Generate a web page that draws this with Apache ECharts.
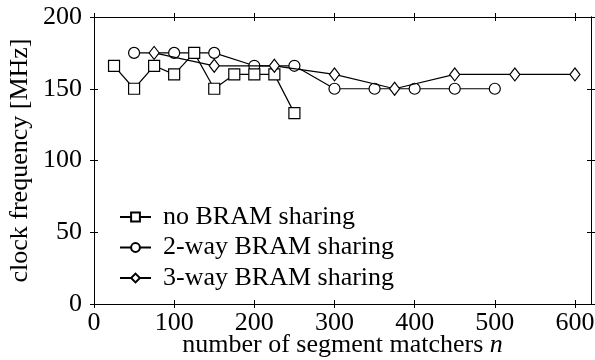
<!DOCTYPE html>
<html>
<head>
<meta charset="utf-8">
<script src="https://cdn.jsdelivr.net/npm/echarts@6/dist/echarts.min.js"></script>
<style>html,body{margin:0;padding:0;background:#fff}#c{width:595px;height:360px}</style>
</head>
<body>
<div id="c"></div>
<script>
// Data
const seriesNames = ['no BRAM sharing', '2-way BRAM sharing', '3-way BRAM sharing'];
const nNoShare = [25, 50, 75, 100, 125, 150, 175, 200, 225, 250];
const fNoShare = [166, 150, 166, 160, 175, 150, 160, 160, 160, 133];
const nTwoWay = [50, 100, 150, 200, 250, 300, 350, 400, 450, 500];
const fTwoWay = [175, 175, 175, 166, 166, 150, 150, 150, 150, 150];
const nThreeWay = [75, 150, 225, 300, 375, 450, 525, 600];
const fThreeWay = [175, 166, 166, 160, 150, 160, 160, 160];
const xTicks = [0, 100, 200, 300, 400, 500, 600];
const yTicks = [0, 50, 100, 150, 200];

const FONT = 'Liberation Serif';
const FS = 26;
const pair = (xs, ys) => xs.map((x, i) => [x, ys[i]]);

function xAx(grid, pos, inside, labels, extra) {
  return Object.assign({
    gridIndex: grid, type: 'value', position: pos, min: 0, max: 620, interval: 100,
    axisLine: { show: true, onZero: false, lineStyle: { color: '#000', width: 1 } },
    axisTick: { show: true, inside: inside, length: 4, customValues: xTicks, lineStyle: { color: '#000', width: 1 } },
    axisLabel: labels ? { show: true, customValues: xTicks, fontFamily: FONT, fontSize: FS, color: '#000', margin: 6 } : { show: false },
    splitLine: { show: false }
  }, extra || {});
}
function yAx(grid, pos, inside, labels, extra) {
  return Object.assign({
    gridIndex: grid, type: 'value', position: pos, min: 0, max: 200, interval: 50,
    axisLine: { show: true, onZero: false, lineStyle: { color: '#000', width: 1 } },
    axisTick: { show: true, inside: inside, length: 4, customValues: yTicks, lineStyle: { color: '#000', width: 1 } },
    axisLabel: labels ? { show: true, customValues: yTicks, fontFamily: FONT, fontSize: FS, color: '#000', margin: 12 } : { show: false },
    splitLine: { show: false }
  }, extra || {});
}

const lineStyle = { color: '#000', width: 1.2 };
const itemStyle = { color: '#fff', borderColor: '#000', borderWidth: 1.2 };
const gridBox = { left: 94, right: 4, top: 17, bottom: 56, outerBoundsMode: 'none', containLabel: false };

const chart = echarts.init(document.getElementById('c'), null, { renderer: 'canvas' });
chart.setOption({
  animation: false,
  backgroundColor: '#fff',
  grid: [Object.assign({}, gridBox), Object.assign({}, gridBox)],
  xAxis: [
    xAx(0, 'bottom', false, true, {
      name: 'number of segment matchers {i|n}', nameLocation: 'middle', nameGap: 28, nameMoveOverlap: false,
      nameTextStyle: { fontFamily: FONT, fontSize: FS, color: '#000', verticalAlign: 'top', rich: { i: { fontFamily: FONT, fontSize: FS, fontStyle: 'italic', color: '#000' } } }
    }),
    xAx(0, 'top', false, false),
    xAx(1, 'bottom', true, false),
    xAx(1, 'top', true, false)
  ],
  yAxis: [
    yAx(0, 'left', false, true, {
      name: 'clock frequency [MHz]', nameLocation: 'middle', nameGap: 61, nameMoveOverlap: false,
      nameTextStyle: { fontFamily: FONT, fontSize: FS, color: '#000' }
    }),
    yAx(0, 'right', false, false),
    yAx(1, 'left', true, false),
    yAx(1, 'right', true, false)
  ],
  legend: {
    orient: 'vertical', left: 119, top: 204, padding: 0, itemWidth: 31, itemHeight: 11, itemGap: 4.5,
    data: seriesNames,
    textStyle: { fontFamily: FONT, fontSize: FS, color: '#000', lineHeight: 25, padding: [0, 0, 0, 7] }
  },
  series: [
    { name: seriesNames[0], type: 'line', xAxisIndex: 0, yAxisIndex: 0, data: pair(nNoShare, fNoShare), symbol: 'rect', symbolSize: 11, lineStyle, itemStyle, z: 3 },
    { name: seriesNames[1], type: 'line', xAxisIndex: 0, yAxisIndex: 0, data: pair(nTwoWay, fTwoWay), symbol: 'circle', symbolSize: 11, lineStyle, itemStyle, z: 2 },
    { name: seriesNames[2], type: 'line', xAxisIndex: 0, yAxisIndex: 0, data: pair(nThreeWay, fThreeWay), symbol: 'diamond', symbolSize: [10, 13], lineStyle, itemStyle, z: 4 }
  ]
});
</script>
</body>
</html>
